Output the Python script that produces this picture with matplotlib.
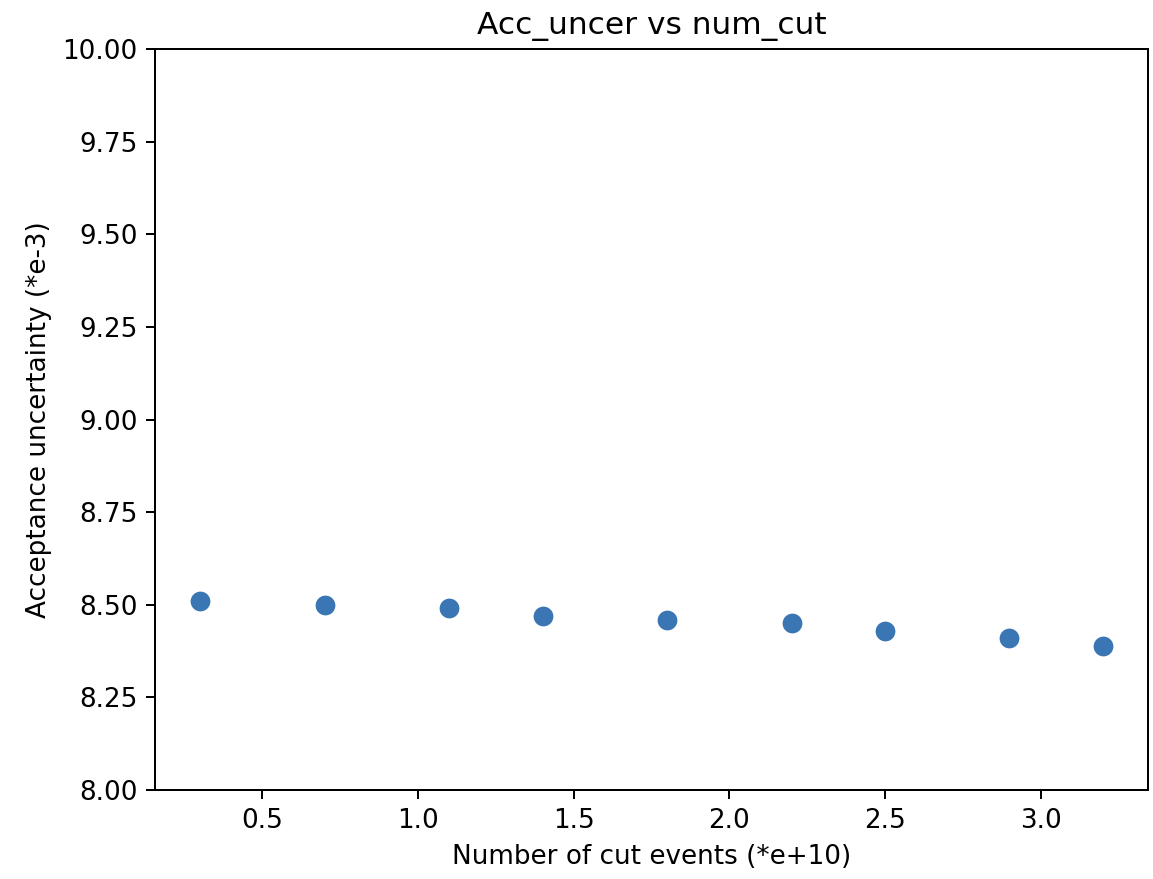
import numpy as np
import matplotlib
matplotlib.use("Agg")
import matplotlib.pyplot as plt

# cut events (*e+10) and acceptance uncertainty (*e-3)
num_cut = [0.3, 0.7, 1.1, 1.4, 1.8, 2.2, 2.5, 2.9, 3.2]
acc_uncer = [8.51, 8.50, 8.49, 8.47, 8.46, 8.45, 8.43, 8.41, 8.39]

fig = plt.figure(figsize=(1153 / 180, 879 / 180), dpi=180)
ax = fig.add_axes([155 / 1153, 89 / 879, 993 / 1153, 741 / 879])

ax.scatter(num_cut, acc_uncer, s=75, color='#3a76b3', edgecolors='white', linewidths=0.75)
ax.set_ylim(8.0, 10.0)
ax.set_yticks(np.arange(8.0, 10.01, 0.25))
ax.set_yticklabels(['%.2f' % v for v in np.arange(8.0, 10.01, 0.25)])

ax.set_title('Acc_uncer vs num_cut', fontsize=12.5)
ax.set_xlabel('Number of cut events (*e+10)', fontsize=10.5)
ax.set_ylabel('Acceptance uncertainty (*e-3)', fontsize=10.5)
ax.tick_params(labelsize=10.5)

fig.savefig('out.png', dpi=180)
